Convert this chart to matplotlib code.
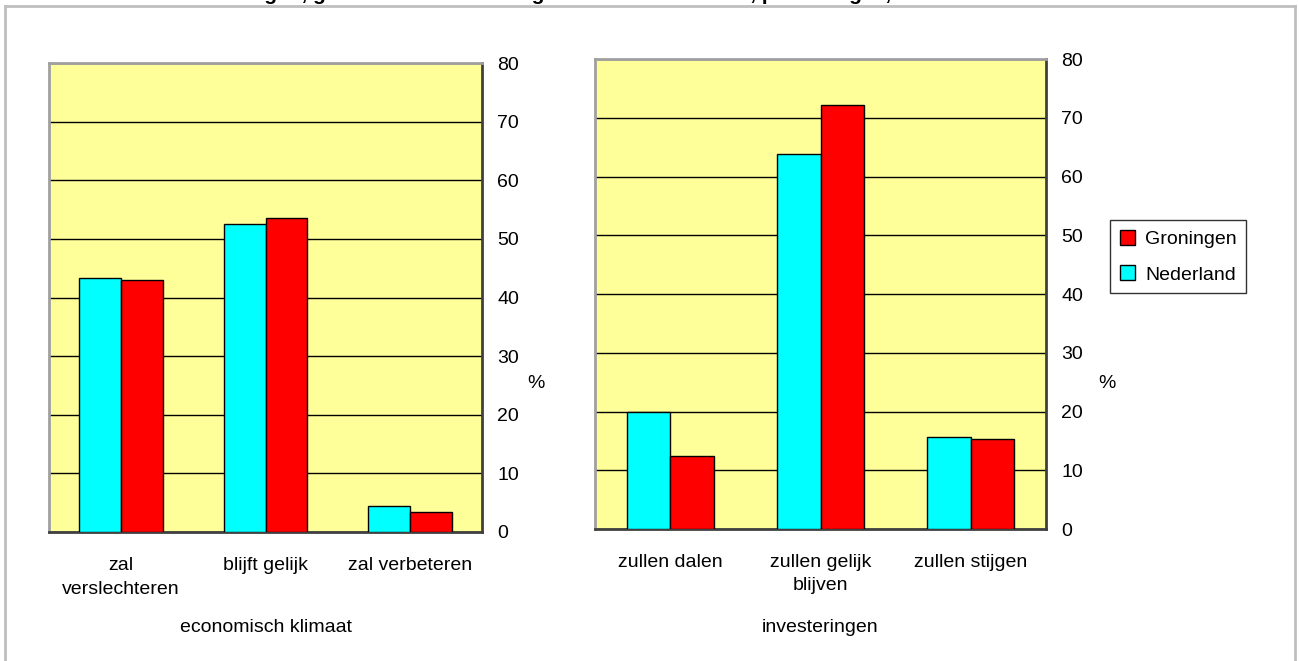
import matplotlib
matplotlib.use("Agg")
import matplotlib.pyplot as plt
from matplotlib.lines import Line2D
from matplotlib.patches import Patch
import numpy as np

plt.rcParams['font.family'] = ['Liberation Sans Narrow', 'Liberation Sans', 'DejaVu Sans']

# ---- data ----
title = "Ondernemers in Groningen, geraamde ontwikkeling economisch klimaat, percentages, 2009"
series_names = ["Groningen", "Nederland"]

cats_left = ["zal\nverslechteren", "blijft gelijk", "zal verbeteren"]
nederland_left = [43.3, 52.6, 4.4]
groningen_left = [43.0, 53.5, 3.4]
xlabel_left = "economisch klimaat"

cats_right = ["zullen dalen", "zullen gelijk\nblijven", "zullen stijgen"]
nederland_right = [20.0, 63.8, 15.6]
groningen_right = [12.4, 72.1, 15.4]
xlabel_right = "investeringen"

yticks = [0, 10, 20, 30, 40, 50, 60, 70, 80]

# ---- style ----
W, H = 1299, 661
CYAN = "#00FFFF"
RED = "#FF0000"
BG = "#FFFF99"
FS = 14

fig = plt.figure(figsize=(W / 100, H / 100), dpi=100)
fig.patch.set_facecolor("white")

# outer frame (top, left, right)
fc = "#BFBFBF"
fig.add_artist(Line2D([5 / W, 1295 / W], [1 - 6 / H, 1 - 6 / H], transform=fig.transFigure, color=fc, lw=2))
fig.add_artist(Line2D([5 / W, 5 / W], [1 - 6 / H, 0], transform=fig.transFigure, color=fc, lw=2))
fig.add_artist(Line2D([1295 / W, 1295 / W], [1 - 6 / H, 0], transform=fig.transFigure, color=fc, lw=2))

# title (clipped at the top edge, as in the reference)
fig.text(30 / W, 1 - 0.3 / H, title, ha="left", va="baseline", fontsize=15,
         fontweight="bold", family=['Liberation Sans', 'DejaVu Sans'])


def panel(rect, cats, ned, gro, xlabel, ylab_xy, xlab_y):
    ax = fig.add_axes(rect)
    ax.set_facecolor(BG)
    x = np.arange(len(cats))
    bw = 0.29
    ax.bar(x - bw / 2, ned, bw, color=CYAN, edgecolor="black", linewidth=1, zorder=3)
    ax.bar(x + bw / 2, gro, bw, color=RED, edgecolor="black", linewidth=1, zorder=3)
    ax.set_xlim(-0.5, len(cats) - 0.5)
    ax.set_ylim(0, 80)
    ax.set_yticks(yticks)
    ax.yaxis.tick_right()
    ax.tick_params(axis="y", length=0, pad=11, labelsize=FS)
    ax.set_xticks(x)
    ax.set_xticklabels(cats)
    ax.tick_params(axis="x", length=0, pad=18, labelsize=FS)
    for lbl in ax.get_xticklabels():
        lbl.set_linespacing(1.5)
    ax.grid(axis="y", color="black", linewidth=1, zorder=1)
    ax.set_axisbelow(True)
    for s in ["top", "left"]:
        ax.spines[s].set_color("#A0A0A0")
        ax.spines[s].set_linewidth(2)
    for s in ["bottom", "right"]:
        ax.spines[s].set_color("#404040")
        ax.spines[s].set_linewidth(2)
    ax.set_xlabel(xlabel, fontsize=FS)
    ax.xaxis.set_label_coords(0.5, xlab_y)
    ax.yaxis.set_label_position("right")
    ax.set_ylabel("%", rotation=0, fontsize=FS, va="center", ha="center")
    ax.yaxis.set_label_coords(*ylab_xy)
    return ax


axL = panel([49 / W, 1 - 532 / H, 433 / W, 469 / H], cats_left, nederland_left, groningen_left,
            xlabel_left, ((536 - 49) / 433, (532 - 383) / 469), -(619 - 532) / 469)
axR = panel([595 / W, 1 - 529 / H, 451 / W, 470 / H], cats_right, nederland_right, groningen_right,
            xlabel_right, ((1107 - 595) / 451, (529 - 383) / 470), -(619 - 529) / 470)

handles = [Patch(facecolor=RED, edgecolor="black", linewidth=1),
           Patch(facecolor=CYAN, edgecolor="black", linewidth=1)]
leg = fig.legend(handles, series_names, loc="upper left",
                 bbox_to_anchor=(1110 / W, 1 - 220 / H), fontsize=FS,
                 frameon=True, fancybox=False, shadow=False,
                 handlelength=0.8, handleheight=0.8, handletextpad=0.5,
                 borderpad=0.5, labelspacing=0.9, borderaxespad=0)
leg.get_frame().set_edgecolor("black")
leg.get_frame().set_linewidth(1)

fig.savefig("out.png", dpi=100)
